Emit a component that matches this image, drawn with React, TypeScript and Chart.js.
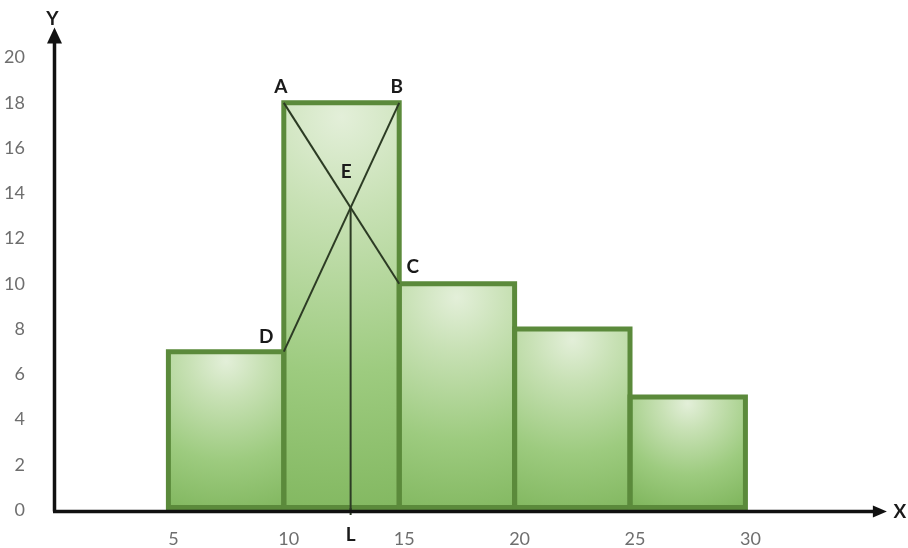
import React, { useEffect, useRef } from "react";
import { Chart, registerables } from "chart.js";

Chart.register(...registerables);

// Class intervals and their frequencies
const classStarts = [5, 10, 15, 20, 25];
const classEnds = [10, 15, 20, 25, 30];
const frequencies = [7, 18, 10, 8, 5];

// Axis ticks
const xTickValues = [5, 10, 15, 20, 25, 30];
const yTickValues = [0, 2, 4, 6, 8, 10, 12, 14, 16, 18, 20];

// Text annotations
const vertexNames = ["A", "B", "C", "D", "E"];
const modeName = "L";
const axisNames = ["X", "Y"];

// Geometry of the mode construction, derived from the modal class
const modal = frequencies.indexOf(Math.max(...frequencies));
const pA = { x: classStarts[modal], y: frequencies[modal] };
const pB = { x: classEnds[modal], y: frequencies[modal] };
const pC = { x: classEnds[modal], y: frequencies[modal + 1] };
const pD = { x: classStarts[modal], y: frequencies[modal - 1] };
const dropAC = pA.y - pC.y;
const riseDB = pB.y - pD.y;
const tE = (pA.y - pD.y) / (dropAC + riseDB);
const pE = { x: pA.x + tE * (pB.x - pA.x), y: pA.y - dropAC * tE };
const pL = { x: pE.x, y: 0 };

const FONT = "Lato, 'Open Sans', sans-serif";
const BORDER = "#5b8a3b";
const LINE = "#2c3b24";

function barFill(ctx: any) {
  const chart = ctx.chart;
  const i = ctx.dataIndex;
  const xs = chart.scales?.x;
  const ys = chart.scales?.y;
  if (!chart.chartArea || !xs || !ys || i == null) return "#a9d08f";
  const l = xs.getPixelForValue(classStarts[i]);
  const r = xs.getPixelForValue(classEnds[i]);
  const top = ys.getPixelForValue(frequencies[i]);
  const base = ys.getPixelForValue(0);
  const h = base - top;
  const w = r - l;
  const cx = (l + r) / 2;
  const cy = top + Math.min(h * 0.06, 14);
  const rad = Math.max(h * 1.05, w * 0.95);
  const g = chart.ctx.createRadialGradient(cx, cy, 0, cx, cy, rad);
  g.addColorStop(0, "#e3efd9");
  g.addColorStop(0.22, "#c8e1b5");
  g.addColorStop(0.6, "#9dcb7f");
  g.addColorStop(1, "#7db45a");
  return g;
}

const outlinePlugin = {
  id: "barOutline",
  afterDatasetDraw(chart: any, args: any) {
    if (args.meta.type !== "bar") return;
    const c = chart.ctx;
    const lw = 5;
    c.save();
    c.strokeStyle = BORDER;
    c.lineWidth = lw;
    c.lineJoin = "miter";
    args.meta.data.forEach((el: any) => {
      const { x, y, base, width } = el.getProps(["x", "y", "base", "width"], true);
      const l = x - width / 2;
      const r = x + width / 2;
      const b = base - lw / 2;
      c.beginPath();
      c.moveTo(l, b);
      c.lineTo(l, y);
      c.lineTo(r, y);
      c.lineTo(r, b);
      c.closePath();
      c.stroke();
    });
    c.restore();
  },
};

const axesPlugin = {
  id: "arrowAxes",
  afterDatasetsDraw(chart: any) {
    const c = chart.ctx;
    const { left, top, right, bottom } = chart.chartArea;
    const xs = chart.scales.x;
    const ys = chart.scales.y;
    const ax = left + 1.5;
    const ay = bottom + 1.5;
    const yTip = top - 30;
    const xTip = right + 3;
    c.save();
    // the vertical through E continues just past the x-axis
    const qE = xs.getPixelForValue(pL.x);
    c.strokeStyle = LINE;
    c.lineWidth = 2;
    c.beginPath();
    c.moveTo(qE, bottom - 2);
    c.lineTo(qE, bottom + 5);
    c.stroke();

    c.strokeStyle = "#111";
    c.fillStyle = "#111";
    c.lineWidth = 3.5;
    c.beginPath();
    c.moveTo(ax, ay);
    c.lineTo(ax, yTip + 12);
    c.moveTo(ax - 1.5, ay);
    c.lineTo(xTip - 10, ay);
    c.stroke();
    // arrow heads
    c.beginPath();
    c.moveTo(ax, yTip);
    c.lineTo(ax - 7.5, yTip + 16);
    c.lineTo(ax + 7.5, yTip + 16);
    c.closePath();
    c.fill();
    c.beginPath();
    c.moveTo(xTip, ay);
    c.lineTo(xTip - 14, ay - 6);
    c.lineTo(xTip - 14, ay + 6);
    c.closePath();
    c.fill();

    c.font = `bold 19px ${FONT}`;
    c.textAlign = "center";
    c.textBaseline = "middle";
    c.fillStyle = "#1a1a1a";
    c.fillText(axisNames[0], xTip + 13, ay);
    c.fillText(axisNames[1], ax - 2, yTip - 9);

    // vertex labels
    const px = (p: { x: number; y: number }) => ({
      x: xs.getPixelForValue(p.x),
      y: ys.getPixelForValue(p.y),
    });
    const offsets = [
      [-3, -16],
      [-2.5, -16],
      [13.5, -17],
      [-17.5, -15],
      [-4.5, -36],
    ];
    [pA, pB, pC, pD, pE].forEach((p, i) => {
      const q = px(p);
      c.fillText(vertexNames[i], q.x + offsets[i][0], q.y + offsets[i][1]);
    });
    const qL = px(pL);
    c.fillText(modeName, qL.x, qL.y + 25);
    c.restore();
  },
};

export default function App() {
  const canvasRef = useRef<HTMLCanvasElement | null>(null);

  useEffect(() => {
    const canvas = canvasRef.current;
    if (!canvas) return;
    const lineDs = (pts: { x: number; y: number }[]) => ({
      type: "line" as const,
      data: pts,
      borderColor: LINE,
      borderWidth: 2,
      pointRadius: 0,
      fill: false,
      tension: 0,
      order: 1,
    });
    const chart = new Chart(canvas, {
      type: "bar",
      data: {
        datasets: [
          {
            type: "bar",
            data: frequencies.map((f, i) => ({ x: (classStarts[i] + classEnds[i]) / 2, y: f })),
            backgroundColor: barFill,
            borderWidth: 0,
            barPercentage: 1,
            categoryPercentage: 1,
            order: 2,
          } as any,
          lineDs([pA, pC]),
          lineDs([pB, pD]),
          lineDs([pE, pL]),
        ],
      },
      options: {
        animation: false,
        responsive: false,
        events: [],
        layout: { padding: { top: 57.6, right: 24.1, left: 0, bottom: 0 } },
        plugins: { legend: { display: false }, tooltip: { enabled: false } },
        scales: {
          x: {
            type: "linear",
            min: 0,
            max: 36,
            offset: false,
            grid: { display: false },
            border: { display: false },
            afterBuildTicks: (s: any) => {
              s.ticks = xTickValues.map((v) => ({ value: v }));
            },
            afterFit: (s: any) => {
              s.height = 38;
            },
            ticks: {
              autoSkip: false,
              maxRotation: 0,
              padding: 10,
              labelOffset: 5,
              color: "#6e6e6e",
              font: { family: FONT, size: 18 },
            },
          },
          y: {
            type: "linear",
            min: 0,
            max: 20,
            grid: { display: false },
            border: { display: false },
            afterBuildTicks: (s: any) => {
              s.ticks = yTickValues.map((v) => ({ value: v }));
            },
            afterFit: (s: any) => {
              s.width = 53;
            },
            ticks: {
              autoSkip: false,
              padding: 20,
              color: "#6e6e6e",
              font: { family: FONT, size: 18 },
            },
          },
        },
      },
      plugins: [outlinePlugin, axesPlugin],
    });
    return () => chart.destroy();
  }, []);

  return (
    <div style={{ position: "absolute", left: 0, top: 0, width: 908, height: 548, background: "#fff" }}>
      <canvas ref={canvasRef} width={908} height={548} style={{ width: 908, height: 548, display: "block" }} />
    </div>
  );
}
